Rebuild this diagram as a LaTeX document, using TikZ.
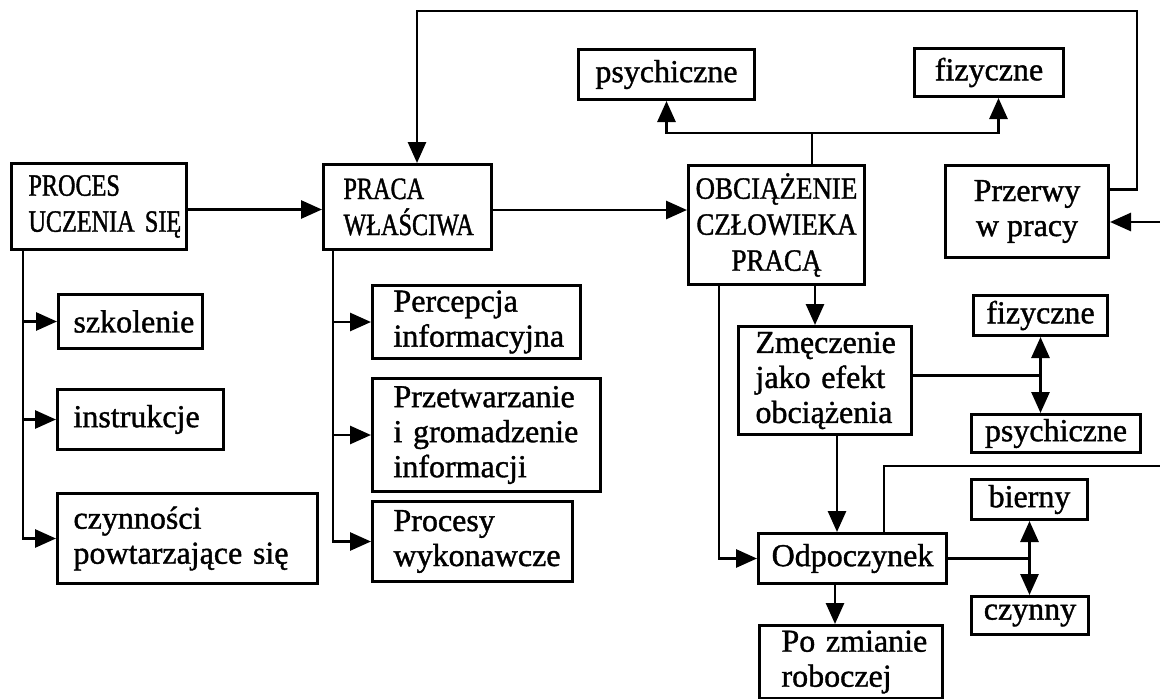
\documentclass[tikz,border=0pt]{standalone}
\usepackage{fontspec}
\setmainfont{Liberation Serif}[FakeBold=1.2]
\newfontfamily\capsf{Liberation Serif}[FakeStretch=0.78,FakeBold=1.2]
\newfontfamily\capsg{Liberation Serif}[FakeStretch=0.87,FakeBold=1.2]
\usetikzlibrary{arrows.meta}
\hyphenpenalty=10000
\exhyphenpenalty=10000
\hbadness=10000
\hfuzz=200pt
\begin{document}
\begin{tikzpicture}[x=1pt,y=-1pt,
  bx/.style={draw, line width=3pt, inner sep=0pt, anchor=north west, font=\fontsize{32}{35}\selectfont},
  lb/.style={bx, align=left},
  cb/.style={bx, align=center},
  capsA/.style={font=\capsf\fontsize{31}{36}\selectfont},
  capsB/.style={font=\capsg\fontsize{31}{36}\selectfont},
  ln/.style={line width=2.8pt},
  arr/.style={line width=2.8pt, -{Triangle[length=21pt,width=18pt]}}]
\useasboundingbox (0,0) rectangle (1160,699);
\fill[white] (0,0) rectangle (1160,699);

% left column
\node[lb, capsA, minimum width=175pt, minimum height=86pt, text width=141pt] (proc) at (10,162) {PROCES\\UCZENIA~SIĘ};
\node[lb, minimum width=144pt, minimum height=54pt, text width=114pt] (szk) at (57,293) {szkolenie};
\node[lb, minimum width=166pt, minimum height=60pt, text width=134pt] (instr) at (56,388) {instrukcje};
\node[lb, minimum width=260pt, minimum height=90pt, text width=228pt] (czyn) at (56,492) {czynności\\powtarzające~się};

% second column
\node[lb, capsA, minimum width=168pt, minimum height=85pt, text width=128pt] (praca) at (322,163) {PRACA\\WŁAŚCIWA};
\node[lb, minimum width=208pt, minimum height=73pt, text width=166pt] (perc) at (371,284) {Percepcja\\informacyjna};
\node[lb, minimum width=228pt, minimum height=113pt, text width=186pt] (przetw) at (371,377) {Przetwarzanie\\i~gromadzenie\\informacji};
\node[lb, minimum width=200pt, minimum height=80pt, text width=158pt] (procesy) at (371,500) {Procesy\\wykonawcze};

% center
\node[cb, capsB, minimum width=176pt, minimum height=119pt] (obc) at (687,164) {OBCIĄŻENIE\\CZŁOWIEKA\\PRACĄ};
\node[cb, minimum width=176pt, minimum height=50pt] (psyT) at (577,48) {psychiczne};
\node[cb, minimum width=149pt, minimum height=48pt] (fizT) at (913,47) {fizyczne};
\node[cb, minimum width=163pt, minimum height=92pt] (przerwy) at (944,164) {Przerwy\\w~pracy};

\node[lb, minimum width=173pt, minimum height=108pt, text width=139pt] (zm) at (737,325) {Zmęczenie\\jako~efekt\\obciążenia};
\node[cb, minimum width=134pt, minimum height=40pt] (fizR) at (972,294) {fizyczne};
\node[cb, minimum width=169pt, minimum height=38pt] (psyR) at (970,413) {psychiczne};
\node[cb, minimum width=188pt, minimum height=50pt] (odp) at (757,532) {Odpoczynek};
\node[cb, minimum width=116pt, minimum height=40pt] (bier) at (970,478) {bierny};
\node[cb, minimum width=117pt, minimum height=38pt] (czy) at (970,595) {czynny};
\node[lb, minimum width=183pt, minimum height=73pt, text width=139pt] (po) at (758,624) {Po~zmianie\\roboczej};

% coordinates
\coordinate (tr) at (1137,11);
\coordinate (tl) at (417,11);
\coordinate (br) at (812,133);
\coordinate (rE1) at (1160,222);
\coordinate (rE2) at (1160,466);

% connectors
\draw[arr] ([yshift=-3pt]proc.east) -- ([yshift=-3pt]proc.east -| praca.west);
\draw[arr] ([yshift=-3pt]praca.east) -- ([yshift=-3pt]praca.east -| obc.west);

\draw[arr] ([xshift=13pt]proc.south west) |- (szk.west);
\draw[arr] ([xshift=13pt]proc.south west) |- (instr.west);
\draw[arr] ([xshift=13pt]proc.south west) |- (czyn.west);

\draw[arr] ([xshift=11pt]praca.south west) |- (perc.west);
\draw[arr] ([xshift=11pt]praca.south west) |- (przetw.west);
\draw[arr] ([xshift=11pt]praca.south west) |- (procesy.west);

\draw[arr] ([yshift=22pt]przerwy.east) -| (tr) -- (tl) -- (tl |- praca.north);
\draw[arr] (rE1) -- (rE1 -| przerwy.east);

\draw[ln] (br |- obc.north) -- (br);
\draw[arr] (br) -| (psyT.south);
\draw[arr] (br) -| ([xshift=9.5pt]fizT.south);

\draw[arr] ([xshift=32pt]obc.south west) |- (odp.west);
\draw[arr] ([xshift=128pt]obc.south west) -- ([xshift=78pt]zm.north west);

\draw[ln] ([yshift=5pt]zm.east) -- ([yshift=5pt]zm.east -| fizR.south);
\draw[arr] ([yshift=5pt]zm.east -| fizR.south) -- (fizR.south);
\draw[arr] ([yshift=5pt]zm.east -| fizR.south) -- (fizR.south |- psyR.north);

\draw[arr] ([xshift=100pt]zm.south west) -- ([xshift=80pt]odp.north west);
\draw[ln] ([xshift=127pt]odp.north west) |- (rE2);

\draw[ln] (odp.east) -- (odp.east -| bier.south);
\draw[arr] (odp.east -| bier.south) -- (bier.south);
\draw[arr] (odp.east -| bier.south) -- (bier.south |- czy.north);

\draw[arr] ([xshift=78pt]odp.south west) -- ([xshift=77pt]po.north west);
\end{tikzpicture}
\end{document}
